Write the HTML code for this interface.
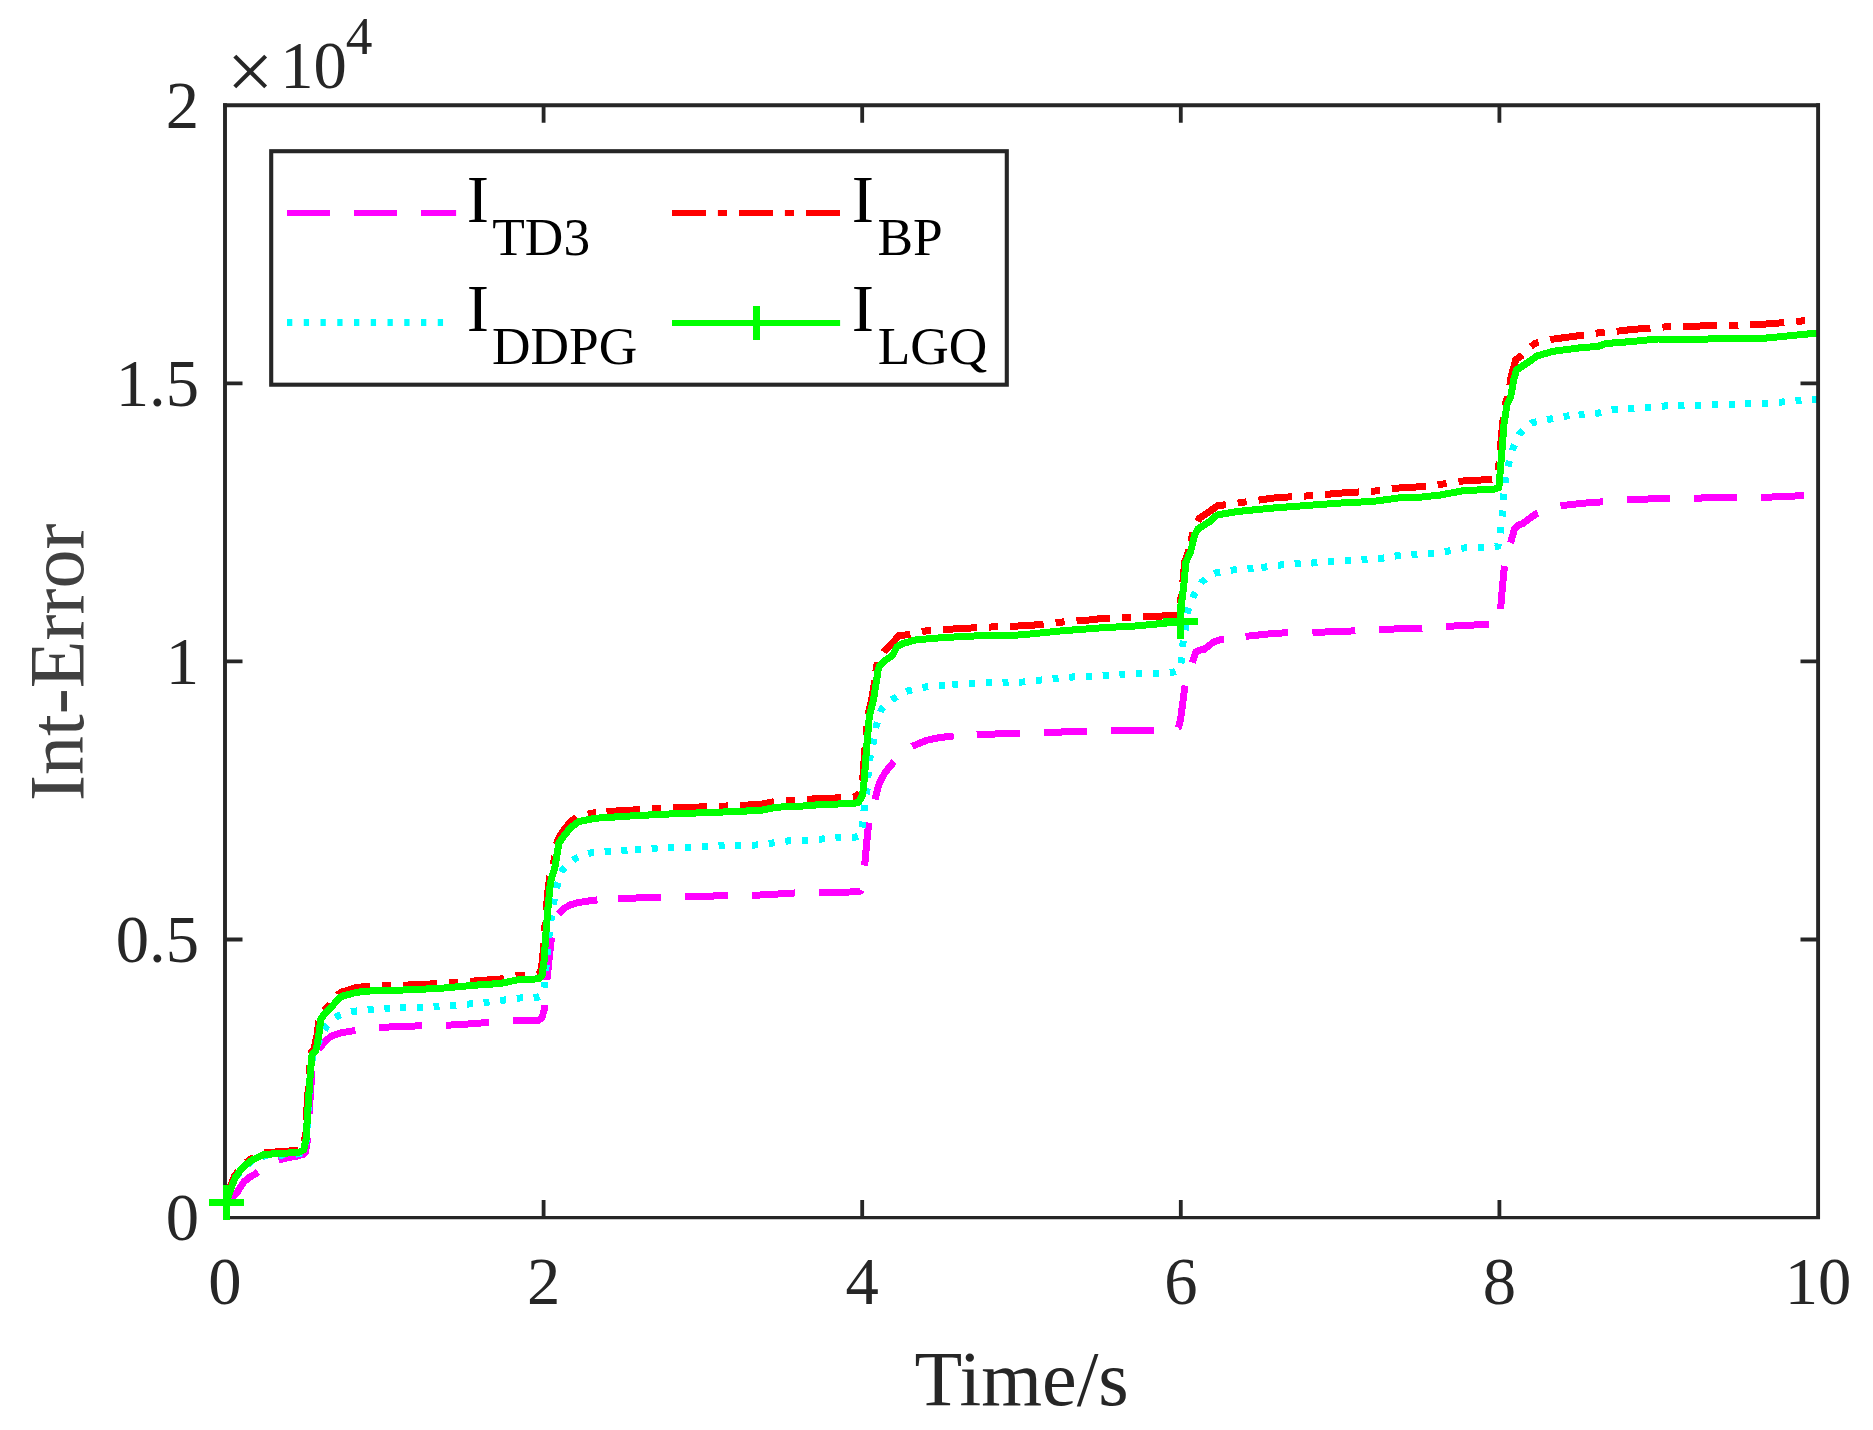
<!DOCTYPE html>
<html lang="en"><head><meta charset="utf-8"><title>Int-Error vs Time</title>
<style>
html,body{margin:0;padding:0;background:#fff;}
svg{display:block;font-family:"Liberation Serif", "Times New Roman", serif;}
.tick{font-size:66.67px;fill:#262626;}
.lab{font-size:78.1px;fill:#262626;}
.leg{font-size:66.67px;fill:#000;}
.sub{font-size:53.33px;fill:#000;}
.ax{stroke:#262626;stroke-width:3.8;fill:none;stroke-linecap:butt;}
.cv{fill:none;stroke-width:7.0;stroke-linejoin:round;stroke-linecap:butt;}
</style></head><body>
<svg width="1873" height="1430" viewBox="0 0 1873 1430">
<rect x="0" y="0" width="1873" height="1430" fill="#fff"/>
<defs><clipPath id="clip"><rect x="225.0" y="105.2" width="1593.0" height="1122.3999999999999"/></clipPath></defs>
<g clip-path="url(#clip)" shape-rendering="crispEdges">
<polyline class="cv" stroke="#ff00ff" stroke-dasharray="43 24" stroke-dashoffset="65.5" points="226.5,1202.5 231.0,1198.5 236.8,1193.0 240.5,1187.0 244.3,1181.4 250.0,1177.0 255.9,1173.6 265.0,1166.5 277.0,1160.2 287.0,1158.0 296.8,1156.1 303.0,1154.5 305.5,1152.0 307.6,1139.0 309.2,1111.8 310.6,1091.4 312.0,1070.9 313.6,1056.0 316.0,1050.5 320.5,1047.0 325.5,1041.0 331.0,1036.3 340.0,1033.0 355.2,1030.5 378.9,1027.5 400.0,1026.5 421.6,1025.8 446.4,1025.3 468.0,1024.0 489.0,1022.4 513.0,1021.0 538.4,1020.3 542.0,1018.0 544.8,1007.0 546.0,990.0 546.2,987.9"/>
<polyline class="cv" stroke="#ff00ff" stroke-dasharray="43 24" stroke-dashoffset="59.1" points="546.2,987.9 547.0,979.6 549.0,960.0 551.3,939.5 554.5,925.0 558.1,914.7 564.9,907.9 570.0,905.0 576.9,902.8 593.6,900.2 605.0,899.4"/>
<polyline class="cv" stroke="#ff00ff" stroke-dasharray="43 24" stroke-dashoffset="53.9" points="605.0,899.4 618.2,898.5 660.6,897.3 685.4,896.8 727.7,895.6 752.3,895.4 775.0,894.2 793.9,893.0 818.0,892.4 850.0,892.0 860.5,891.2 863.0,886.0 863.6,878.6"/>
<polyline class="cv" stroke="#ff00ff" stroke-dasharray="43 24" stroke-dashoffset="53.9" points="863.6,878.6 864.7,865.0 866.5,845.0 868.6,823.2 871.5,810.0 874.9,800.1 878.8,784.7 884.8,772.8 893.4,762.5 902.0,754.0 912.2,746.3 926.7,740.3 940.0,737.5 953.2,736.0 965.0,735.4"/>
<polyline class="cv" stroke="#ff00ff" stroke-dasharray="43 24" stroke-dashoffset="55.3" points="965.0,735.4 977.1,734.7 1018.9,733.1 1043.7,732.6 1086.0,731.2 1110.0,730.5 1152.9,730.4 1165.0,730.1"/>
<polyline class="cv" stroke="#ff00ff" stroke-dasharray="43 24" stroke-dashoffset="53.2" points="1165.0,730.1 1175.0,729.8 1178.5,727.5 1180.5,720.0 1182.5,705.0 1184.6,688.4 1187.0,675.0 1192.0,663.8 1195.8,652.0 1200.0,650.0 1204.5,649.2 1209.0,645.5 1213.7,642.0 1222.1,639.3 1234.0,637.8"/>
<polyline class="cv" stroke="#ff00ff" stroke-dasharray="43 24" stroke-dashoffset="55.3" points="1234.0,637.8 1246.1,636.3 1268.0,634.0 1287.9,632.6 1312.4,632.6 1335.0,631.5 1354.9,630.9 1379.3,629.5 1400.0,628.8 1421.9,628.1 1446.0,626.4 1488.9,624.3 1497.0,623.8 1499.5,620.0 1499.9,615.8"/>
<polyline class="cv" stroke="#ff00ff" stroke-dasharray="43 24" stroke-dashoffset="60.0" points="1499.9,615.8 1500.5,609.5 1502.4,588.0 1504.3,567.2 1507.0,553.0 1510.7,542.3 1514.6,528.5 1518.5,525.2 1523.0,523.4 1529.5,518.5 1536.3,513.7 1548.0,509.0"/>
<polyline class="cv" stroke="#ff00ff" stroke-dasharray="43 24" stroke-dashoffset="54.2" points="1548.0,509.0 1560.5,505.8 1582.0,503.3 1603.0,501.8 1627.0,499.8 1669.8,498.2 1694.2,498.2 1737.0,497.1 1761.1,497.5 1804.0,495.6 1818.0,495.2"/>
<polyline class="cv" stroke="#00ffff" stroke-dasharray="6 10.75" stroke-dashoffset="5.9" points="226.5,1202.5 231.4,1187.5 235.5,1178.0 242.3,1168.7 251.8,1161.4 264.1,1156.0 283.2,1155.0 299.5,1153.8 304.2,1151.5 306.5,1139.1 308.0,1111.8 309.4,1091.4 310.8,1070.9 312.5,1056.0 315.5,1052.0 318.5,1042.0 322.0,1034.0 326.8,1026.1 332.0,1020.5 337.9,1015.9 345.0,1013.0 354.1,1011.3 370.4,1009.4 387.4,1008.2 395.5,1008.0"/>
<polyline class="cv" stroke="#00ffff" stroke-dasharray="6 10.75" stroke-dashoffset="12.2" points="395.5,1008.0 403.6,1007.8 420.7,1007.3 437.0,1006.8 454.0,1005.6 470.3,1003.9 487.4,1002.2 503.7,1000.1 520.1,998.0 537.6,997.2 542.0,995.5 544.8,983.9 546.5,960.0 548.5,940.0 551.3,917.3 553.8,901.9 557.2,885.3 562.4,870.3 568.0,864.0 574.3,859.2 581.0,855.5 588.8,853.2 605.4,851.2 622.3,850.8 630.3,850.1"/>
<polyline class="cv" stroke="#00ffff" stroke-dasharray="6 10.75" stroke-dashoffset="12.1" points="630.3,850.1 638.4,849.3 655.1,848.1 672.6,847.2 688.8,847.2 705.5,846.7 722.1,845.5 738.9,845.2 755.8,845.0 772.5,843.0 788.4,840.9 804.7,840.3 821.9,839.0 838.4,837.7 855.3,837.2 860.5,835.5 862.6,824.4 864.3,807.8 866.9,791.6 868.1,774.5 870.0,757.9 873.4,741.7 876.3,725.4 881.1,709.9 886.5,704.0 893.0,699.0 900.0,694.5 907.5,691.1 922.4,687.3 939.5,685.6 947.8,685.0"/>
<polyline class="cv" stroke="#00ffff" stroke-dasharray="6 10.75" stroke-dashoffset="12.2" points="947.8,685.0 956.1,684.3 972.8,683.6 989.6,682.6 1006.5,682.2 1023.2,682.0 1039.4,680.2 1056.2,678.5 1072.6,677.0 1089.4,676.5 1106.0,675.2 1122.5,674.3 1139.4,673.9 1156.1,673.2 1172.9,672.3 1179.0,670.0 1181.6,660.7 1182.9,643.8 1185.7,627.6 1187.8,610.5 1193.6,595.8 1201.7,582.2 1207.5,577.0 1214.8,573.1 1231.2,570.2 1248.3,568.5 1256.6,567.8"/>
<polyline class="cv" stroke="#00ffff" stroke-dasharray="6 10.75" stroke-dashoffset="12.0" points="1256.6,567.8 1264.9,567.1 1281.4,564.9 1298.2,563.7 1314.9,562.9 1331.2,561.2 1348.1,560.3 1364.8,559.4 1381.5,558.3 1398.0,555.6 1414.4,554.3 1431.3,553.4 1447.7,551.2 1464.2,548.0 1480.8,547.4 1497.9,546.4 1500.5,530.7 1502.4,514.0 1503.5,497.4 1505.5,480.5 1508.5,464.0 1513.1,447.8 1519.9,433.3 1525.5,427.5 1532.4,422.7 1549.0,419.3 1564.9,416.2 1573.3,415.5"/>
<polyline class="cv" stroke="#00ffff" stroke-dasharray="6 10.75" stroke-dashoffset="11.4" points="1573.3,415.5 1581.8,414.8 1598.5,413.1 1614.5,409.3 1631.3,408.9 1647.9,407.5 1664.4,406.0 1681.4,405.8 1698.0,405.2 1714.7,404.8 1731.4,404.3 1748.4,403.8 1764.7,403.7 1781.1,402.1 1798.0,400.2 1814.6,399.6 1818.0,399.5"/>
<polyline class="cv" stroke="#ff0000" stroke-dasharray="34 12 9 12" stroke-dashoffset="0.3" points="226.5,1202.5 230.4,1186.3 234.4,1176.4 241.3,1166.5 250.8,1158.9 263.3,1152.7 283.0,1151.5 299.0,1150.2 302.8,1148.0 305.1,1137.0 306.7,1111.8 308.1,1091.4 309.5,1070.9 311.0,1053.0 314.2,1048.5 317.0,1035.0 319.2,1017.5 322.5,1011.5 329.5,1004.5 338.0,994.5 342.0,992.0 356.7,987.5 373.8,985.8 407.9,985.0 442.1,983.5 476.3,980.8 500.0,979.0 517.0,975.5 538.0,974.3 540.5,972.0 542.5,960.8 544.2,935.2 546.2,909.6 548.3,887.4 549.7,877.0 553.0,866.0 557.2,841.0 563.0,831.0 570.0,822.5 577.0,816.5 595.7,812.5 596.0,812.5"/>
<polyline class="cv" stroke="#ff0000" stroke-dasharray="34 12 9 12" stroke-dashoffset="56.5" points="596.0,812.5 609.3,811.4 636.7,809.8 670.9,808.0 705.0,806.8 739.2,805.5 761.4,804.2 776.8,801.2 790.5,800.4 820.0,798.5 850.0,797.5 857.0,796.5 861.0,790.0 862.7,779.6 864.4,755.7 866.1,735.5 867.8,715.8 871.5,700.0 874.9,680.0 875.0,679.1"/>
<polyline class="cv" stroke="#ff0000" stroke-dasharray="34 12 9 12" stroke-dashoffset="37.9" points="875.0,679.1 876.3,668.0 878.0,660.0 884.0,651.2 890.8,645.2 898.5,635.8 909.6,634.5 926.7,630.7 960.9,628.5 993.3,626.9 1029.2,625.6 1060.0,622.2 1094.1,619.6 1100.0,618.6 1151.3,616.7 1176.9,615.0 1179.3,611.0 1180.7,599.6 1182.8,582.5 1184.6,562.0 1189.0,550.0 1190.0,545.6"/>
<polyline class="cv" stroke="#ff0000" stroke-dasharray="34 12 9 12" stroke-dashoffset="41.5" points="1190.0,545.6 1193.1,532.0 1199.1,518.4 1209.3,511.6 1217.9,505.6 1227.3,504.6 1243.5,502.2 1276.8,497.6 1310.1,495.8 1344.3,492.8 1376.8,490.9 1392.8,488.4 1407.5,487.5 1427.4,486.3 1443.0,484.0 1459.3,481.2 1493.5,479.3 1497.3,477.0 1498.8,466.0 1500.6,446.0 1502.7,422.0 1503.0,420.0"/>
<polyline class="cv" stroke="#ff0000" stroke-dasharray="34 12 9 12" stroke-dashoffset="31.3" points="1503.0,420.0 1505.5,403.5 1508.6,394.0 1511.0,377.5 1515.7,359.8 1521.7,355.5 1534.5,343.6 1551.6,339.3 1584.0,335.0 1601.1,332.5 1616.7,331.3 1633.6,329.3 1650.6,328.2 1667.7,326.7 1700.2,326.0 1734.4,325.4 1766.0,324.0 1784.0,322.6 1800.0,321.1 1818.0,320.0"/>
<polyline class="cv" stroke="#00ff00" points="226.5,1202.5 231.4,1186.8 235.5,1177.3 242.3,1167.7 251.8,1160.2 264.1,1154.4 283.2,1153.4 299.5,1152.0 303.6,1150.0 306.1,1139.1 307.7,1111.8 309.1,1091.4 310.5,1070.9 312.1,1054.5 315.9,1050.5 318.6,1036.8 320.8,1019.3 324.2,1014.2 331.0,1007.3 339.6,997.9 343.0,995.9 356.7,992.3 373.8,990.6 407.9,989.9 442.1,988.2 476.3,985.1 500.0,983.5 517.0,980.0 538.4,978.8 541.9,976.2 544.1,960.8 545.8,935.2 547.8,909.6 549.9,887.4 551.3,878.8 554.7,868.6 558.9,843.0 564.9,834.4 571.8,826.7 578.6,821.6 595.7,818.2 636.7,815.6 670.9,813.9 705.0,812.7 739.2,811.4 761.4,810.2 776.8,807.1 790.0,806.8 807.0,805.8 820.0,804.6 850.0,803.6 858.3,802.7 862.6,795.0 864.3,779.6 866.0,755.7 867.7,735.5 869.4,715.8 873.3,700.5 876.7,680.0 878.0,670.3 879.7,665.7 884.8,660.6 892.5,655.5 896.8,646.9 902.8,643.5 916.4,639.8 943.8,637.5 977.9,635.8 1012.1,635.5 1029.2,634.1 1063.4,630.7 1097.5,628.1 1117.7,626.9 1134.2,626.1 1159.8,623.7 1178.6,621.8 1180.6,616.7 1182.0,599.6 1184.1,582.5 1185.9,562.0 1190.6,551.8 1194.8,534.7 1198.2,528.7 1209.3,521.9 1217.0,515.0 1236.7,511.6 1270.9,508.2 1305.0,505.6 1339.2,503.1 1373.4,501.4 1399.0,497.9 1420.0,497.2 1440.5,495.0 1462.7,490.8 1495.2,489.0 1498.9,487.5 1500.3,470.9 1502.0,450.3 1504.1,423.0 1507.1,404.2 1510.6,397.4 1514.0,378.6 1516.5,370.0 1529.3,361.5 1537.0,356.0 1553.3,351.3 1582.3,347.5 1597.7,346.5 1606.2,343.5 1632.0,341.5 1657.7,339.0 1689.7,339.5 1715.3,338.8 1741.0,338.0 1766.6,338.0 1785.8,336.1 1805.0,334.2 1818.0,333.2"/>
</g>
<path class="ax" style="stroke-width:3.9" d="M225.0,103.2V1219.1M1818.1,103.2V1219.1"/>
<path class="ax" style="stroke-width:4" d="M223.1,105.2H1820.0"/>
<path class="ax" style="stroke-width:3.1" d="M223.1,1217.6H1820.0"/>
<path class="ax" d="M543.6,1217.6V1200.1M543.6,105.2V122.7M862.2,1217.6V1200.1M862.2,105.2V122.7M1180.8,1217.6V1200.1M1180.8,105.2V122.7M1499.4,1217.6V1200.1M1499.4,105.2V122.7M225.0,939.5H242.5M1818.0,939.5H1800.5M225.0,661.4H242.5M1818.0,661.4H1800.5M225.0,383.3H242.5M1818.0,383.3H1800.5"/>
<path d="M209.0,1202.7H244.0M226.5,1185.2V1220.2M1163.0,621.0H1198.0M1180.5,603.5V638.5" stroke="#00ff00" stroke-width="7" fill="none" shape-rendering="crispEdges"/>
<text class="tick" x="225.0" y="1304.3" text-anchor="middle">0</text>
<text class="tick" x="543.6" y="1304.3" text-anchor="middle">2</text>
<text class="tick" x="862.2" y="1304.3" text-anchor="middle">4</text>
<text class="tick" x="1180.8" y="1304.3" text-anchor="middle">6</text>
<text class="tick" x="1499.4" y="1304.3" text-anchor="middle">8</text>
<text class="tick" x="1818.0" y="1304.3" text-anchor="middle">10</text>
<text class="tick" x="199" y="1240.4" text-anchor="end">0</text>
<text class="tick" x="199" y="962.3" text-anchor="end">0.5</text>
<text class="tick" x="199" y="684.2" text-anchor="end">1</text>
<text class="tick" x="199" y="406.1" text-anchor="end">1.5</text>
<text class="tick" x="199" y="128.0" text-anchor="end">2</text>
<text class="tick" x="226.7" y="98.6" style="font-size:83px">×</text>
<text class="tick" x="280.2" y="88.0">10</text>
<text class="tick" x="345.7" y="53.8" style="font-size:53.33px">4</text>
<text class="lab" x="1021.7" y="1404.9" text-anchor="middle">Time/s</text>
<text class="lab" transform="translate(83.2,662.2) rotate(-90)" text-anchor="middle" style="fill:#404040">Int-Error</text>
<rect x="271.2" y="151.2" width="735.5999999999999" height="233.5" fill="#fff" stroke="#262626" stroke-width="4.1"/>
<path d="M287,213H456.1" stroke="#ff00ff" stroke-width="6" stroke-dasharray="43 24" fill="none"/>
<path d="M287,322.5H444" stroke="#00ffff" stroke-width="7" stroke-dasharray="5.3 11.45" fill="none"/>
<path d="M672,213H840.1" stroke="#ff0000" stroke-width="6" stroke-dasharray="34 11.9 9.1 12" fill="none"/>
<path d="M672,323H840.1" stroke="#00ff00" stroke-width="6" fill="none"/>
<path d="M756.5,306V340" stroke="#00ff00" stroke-width="7" fill="none"/>
<text class="leg" x="466.8" y="221.8">I</text><text class="sub" x="492.3" y="255.4">TD3</text>
<text class="leg" x="466.8" y="330.7">I</text><text class="sub" x="492.0" y="363.8">DDPG</text>
<text class="leg" x="851.8" y="221.8">I</text><text class="sub" x="877.5" y="255.2">BP</text>
<text class="leg" x="851.8" y="330.7">I</text><text class="sub" x="877.7" y="363.8">LGQ</text>
</svg></body></html>
